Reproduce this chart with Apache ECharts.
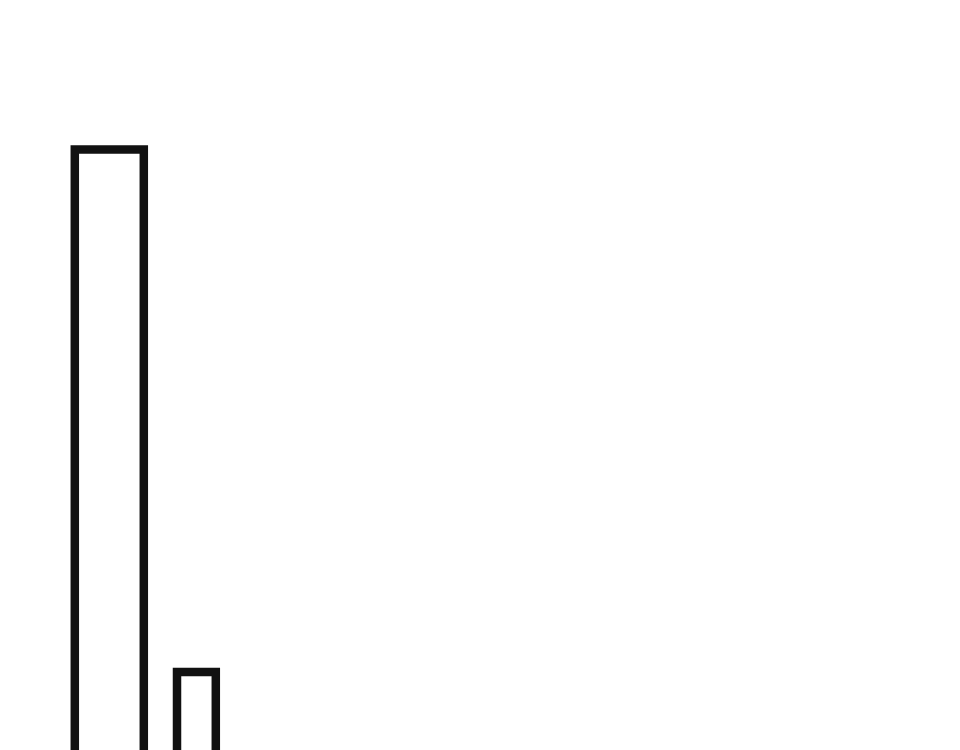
<!DOCTYPE html>
<html>
<head>
<meta charset="utf-8">
<script src="https://cdn.jsdelivr.net/npm/echarts@6/dist/echarts.min.js"></script>
<style>
  html, body { margin: 0; padding: 0; background: #fff; }
  #main { width: 960px; height: 750px; }
</style>
</head>
<body>
<div id="main"></div>
<script>
// bins of the histogram (only the visible part of the chart)
var binStart = [7.48, 17.7];
var binEnd = [14.38, 21.58];
var counts = [81.3, 16.0];

var binData = binStart.map(function (s, i) {
    return [s, binEnd[i], counts[i]];
});

var option = {
    backgroundColor: '#fff',
    animation: false,
    grid: { left: 0, right: 0, top: 0, bottom: 0 },
    xAxis: { type: 'value', min: 0, max: 96, show: false },
    // the baseline (0) is below the visible area, as in the cropped original
    yAxis: { type: 'value', min: 6.25, max: 100, show: false },
    series: [
        {
            type: 'custom',
            clip: false,
            data: binData,
            encode: { x: [0, 1], y: 2 },
            renderItem: function (params, api) {
                var p0 = api.coord([api.value(0), api.value(2)]);
                var p1 = api.coord([api.value(1), 0]);
                return {
                    type: 'rect',
                    shape: { x: p0[0], y: p0[1], width: p1[0] - p0[0], height: p1[1] - p0[1] },
                    style: { fill: '#fff', stroke: '#111', lineWidth: 8.5 }
                };
            }
        }
    ]
};

var myChart = echarts.init(document.getElementById('main'));
myChart.setOption(option);
</script>
</body>
</html>
